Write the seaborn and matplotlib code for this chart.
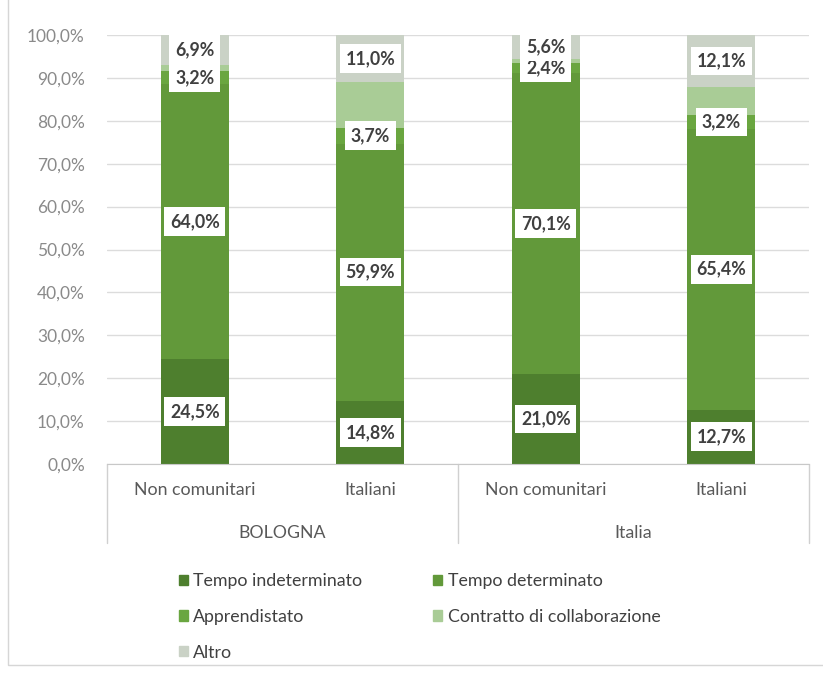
import numpy as np
import pandas as pd
import matplotlib
matplotlib.use("Agg")
import matplotlib.pyplot as plt
from matplotlib.patches import Patch, Rectangle
from matplotlib.ticker import FuncFormatter
import seaborn as sns

# --- data -------------------------------------------------------------
groups = ["BOLOGNA", "BOLOGNA", "Italia", "Italia"]
subgroups = ["Non comunitari", "Italiani", "Non comunitari", "Italiani"]

series = ["Tempo indeterminato", "Tempo determinato", "Apprendistato",
          "Contratto di collaborazione", "Altro"]
tempo_indeterminato = [24.5, 14.8, 21.0, 12.7]
tempo_determinato = [64.0, 59.9, 70.1, 65.4]
apprendistato = [3.2, 3.7, 2.4, 3.2]
contratto_collaborazione = [1.4, 10.6, 0.9, 6.6]
altro = [6.9, 11.0, 5.6, 12.1]
labelled = [True, True, True, False, True]

colors = ["#4e7f2e", "#62993a", "#6aa640", "#a9cc96", "#cad2c6"]

values = [tempo_indeterminato, tempo_determinato, apprendistato,
          contratto_collaborazione, altro]

df = pd.DataFrame({"group": groups, "sub": subgroups})
df["key"] = df["group"] + "|" + df["sub"]
for name, vals in zip(series, values):
    df[name] = vals
cum = df[series].cumsum(axis=1)
for name in series:
    df["cum_" + name] = cum[name]

# --- figure -----------------------------------------------------------
sns.set_style("white")
plt.rcParams["font.family"] = ["Lato", "DejaVu Sans"]

W, H = 823, 675
FS = 12.8
fig = plt.figure(figsize=(W / 100, H / 100), dpi=100)
ax = fig.add_axes([107 / W, 1 - 464 / H, (809 - 107) / W, (464 - 35) / H])

order = list(df["key"])
# stacked bars: draw cumulative totals from the top series down
for i in reversed(range(len(series))):
    sns.barplot(data=df, x="key", y="cum_" + series[i], order=order,
                color=colors[i], saturation=1, width=0.39, ax=ax,
                linewidth=0, zorder=2)

ax.set_ylim(0, 100)
ax.set_xlim(-0.5, 3.5)
ax.set_yticks(np.arange(0, 101, 10))
ax.yaxis.set_major_formatter(FuncFormatter(lambda v, p: f"{v:.1f}%".replace(".", ",")))
ax.tick_params(axis="y", length=0, pad=16, labelsize=FS - 0.3, labelcolor="#8a8a8a")
ax.tick_params(axis="x", length=0, labelbottom=False)
ax.set_xlabel("")
ax.set_ylabel("")
ax.grid(axis="y", color="#dcdcdc", linewidth=1, zorder=0)
ax.set_axisbelow(True)
for s in ["top", "right", "left"]:
    ax.spines[s].set_visible(False)
ax.spines["bottom"].set_color("#c8c8c8")

# segment value labels
for i, name in enumerate(series):
    if not labelled[i]:
        continue
    for j in range(len(df)):
        v = df.loc[j, name]
        mid = df.loc[j, "cum_" + name] - v / 2
        ax.text(j, mid, f"{v:.1f}%".replace(".", ","), ha="center", va="center",
                fontsize=FS, fontweight="bold", color="#404040", zorder=5,
                bbox=dict(boxstyle="square,pad=0.33", fc="white", ec="none"))

# two-level category axis
xt = ax.get_xaxis_transform()
for j, sub in enumerate(subgroups):
    ax.text(j, -0.061, sub, transform=xt, ha="center", va="center",
            fontsize=FS, color="#595959", clip_on=False)
for g in dict.fromkeys(groups):
    pos = [j for j, gg in enumerate(groups) if gg == g]
    ax.text(np.mean(pos), -0.161, g, transform=xt, ha="center", va="center",
            fontsize=FS, color="#595959", clip_on=False)
for xb in [-0.5, 1.5, 3.5]:
    ax.plot([xb, xb], [0, -0.184], transform=xt, color="#d0d0d0", lw=1,
            clip_on=False)

# legend
handles = [Patch(color=c, label=n) for c, n in zip(colors, series)]
hord = [0, 2, 4, 1, 3]
leg = fig.legend([handles[k] for k in hord], [series[k] for k in hord],
                 ncol=2, loc="upper left", bbox_to_anchor=(170 / W, 1 - 564 / H),
                 frameon=False, fontsize=FS, handlelength=0.5, handleheight=0.5,
                 handletextpad=0.3, labelspacing=1.12, columnspacing=4.0,
                 borderpad=0, labelcolor="#404040")

# chart area border
fig.patches.append(Rectangle((8 / W, 10 / H), 1.2, 1.2, transform=fig.transFigure,
                             fill=False, ec="#d6d6d6", lw=1))

fig.savefig("out.png", dpi=100, facecolor="white")
